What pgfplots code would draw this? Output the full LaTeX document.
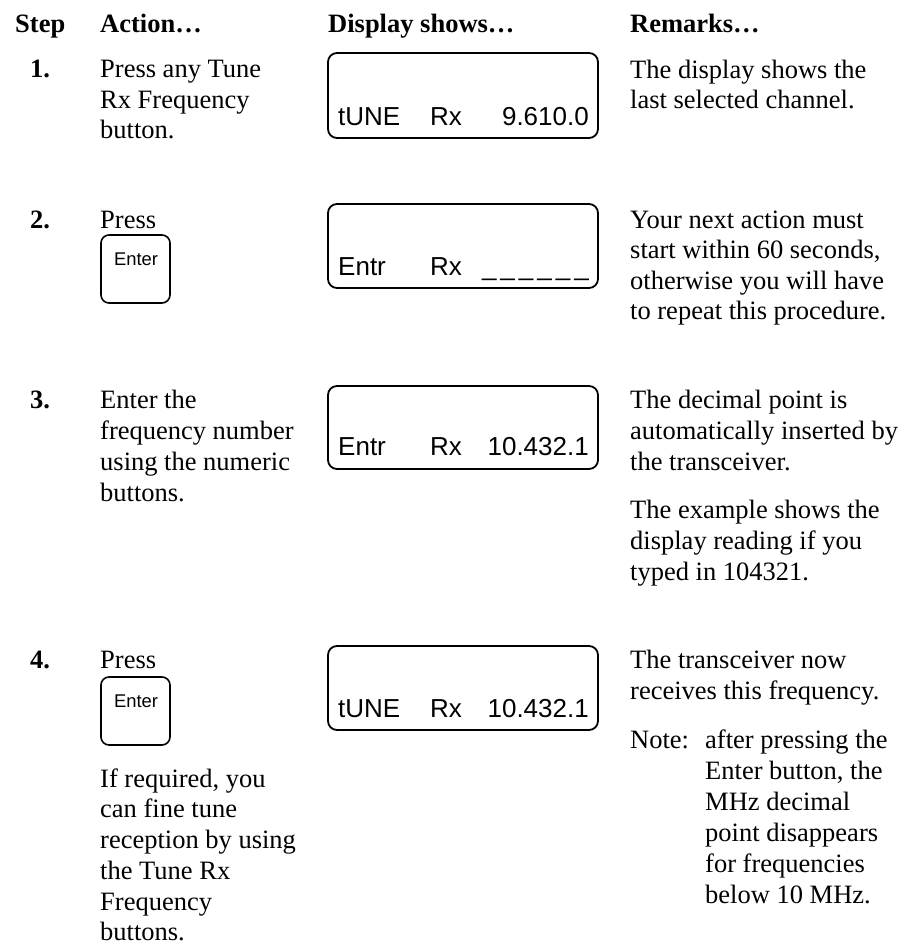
\documentclass[border=0pt]{standalone}
\usepackage{fontspec}
\setmainfont{Liberation Serif}
\newfontfamily\arialf{Liberation Sans}
\usepackage{pgfplots}
\pgfplotsset{compat=1.18}
\newcommand{\T}[3]{\node[anchor=base west,inner sep=0pt,font=\fontsize{26.5}{30.5}\selectfont] at (axis cs:#1,#2) {#3};}
\newcommand{\TB}[3]{\node[anchor=base west,inner sep=0pt,font=\fontsize{26.5}{30.5}\selectfont\bfseries] at (axis cs:#1,#2) {#3};}
\newcommand{\LW}[3]{\node[anchor=base west,inner sep=0pt,font=\arialf\fontsize{26}{26}\selectfont] at (axis cs:#1,#2) {#3};}
\newcommand{\LE}[3]{\node[anchor=base east,inner sep=0pt,font=\arialf\fontsize{26}{26}\selectfont] at (axis cs:#1,#2) {#3};}
\newcommand{\DISP}[2]{\draw[line width=1.8pt,rounded corners=9pt] (axis cs:328,#1) rectangle (axis cs:598,#2);}
\newcommand{\KEY}[3]{\draw[line width=1.6pt,rounded corners=8pt] (axis cs:101,#1) rectangle (axis cs:170,#2);
  \node[anchor=base,inner sep=0pt,font=\arialf\fontsize{18.4}{20}\selectfont] at (axis cs:136,#3) {Enter};}
\begin{document}
\begin{tikzpicture}
\begin{axis}[
  width=899pt, height=946pt, scale only axis,
  xmin=0, xmax=899, ymin=0, ymax=946, y dir=reverse,
  hide axis, clip=false]
% header
\TB{15}{32}{Step}
\TB{100}{32}{Action…}
\TB{328}{32}{Display shows…}
\TB{630}{32}{Remarks…}
% row 1
\TB{30}{77}{1.}
\T{100}{77}{Press any Tune}
\T{100}{108}{Rx Frequency}
\T{100}{138}{button.}
\DISP{53}{138}
\LW{338}{125}{tUNE}
\LW{430}{125}{Rx}
\LE{589}{125}{9.610.0}
\T{630}{78}{The display shows the}
\T{630}{108}{last selected channel.}
% row 2
\TB{30}{228}{2.}
\T{100}{228}{Press}
\KEY{235}{303}{265}
\DISP{204}{288}
\LW{338}{275}{Entr}
\LW{430}{275}{Rx}
\LE{589}{275}{\_\kern4pt\_\kern4pt\_\kern4pt\_\kern4pt\_\kern4pt\_}
\T{630}{228}{Your next action must}
\T{630}{258.5}{start within 60 seconds,}
\T{630}{289}{otherwise you will have}
\T{630}{319.5}{to repeat this procedure.}
% row 3
\TB{30}{408}{3.}
\T{100}{408}{Enter the}
\T{100}{439}{frequency number}
\T{100}{470}{using the numeric}
\T{100}{501}{buttons.}
\DISP{386}{469}
\LW{338}{455}{Entr}
\LW{430}{455}{Rx}
\LE{589}{455}{10.432.1}
\T{630}{408}{The decimal point is}
\T{630}{439}{automatically inserted by}
\T{630}{470}{the transceiver.}
\T{630}{518}{The example shows the}
\T{630}{549}{display reading if you}
\T{630}{580}{typed in 104321.}
% row 4
\TB{30}{668}{4.}
\T{100}{668}{Press}
\KEY{677}{745}{707}
\DISP{646}{730}
\LW{338}{717}{tUNE}
\LW{430}{717}{Rx}
\LE{589}{717}{10.432.1}
\T{100}{787}{If required, you}
\T{100}{817}{can fine tune}
\T{100}{848}{reception by using}
\T{100}{879}{the Tune Rx}
\T{100}{910}{Frequency}
\T{100}{940}{buttons.}
\T{630}{668}{The transceiver now}
\T{630}{699}{receives this frequency.}
\T{630}{748}{Note:}
\T{705}{748}{after pressing the}
\T{705}{779}{Enter button, the}
\T{705}{810}{MHz decimal}
\T{705}{841}{point disappears}
\T{705}{872}{for frequencies}
\T{705}{903}{below 10 MHz.}
\end{axis}
\pgfresetboundingbox
\path (0,0) rectangle (899pt,946pt);
\end{tikzpicture}
\end{document}
